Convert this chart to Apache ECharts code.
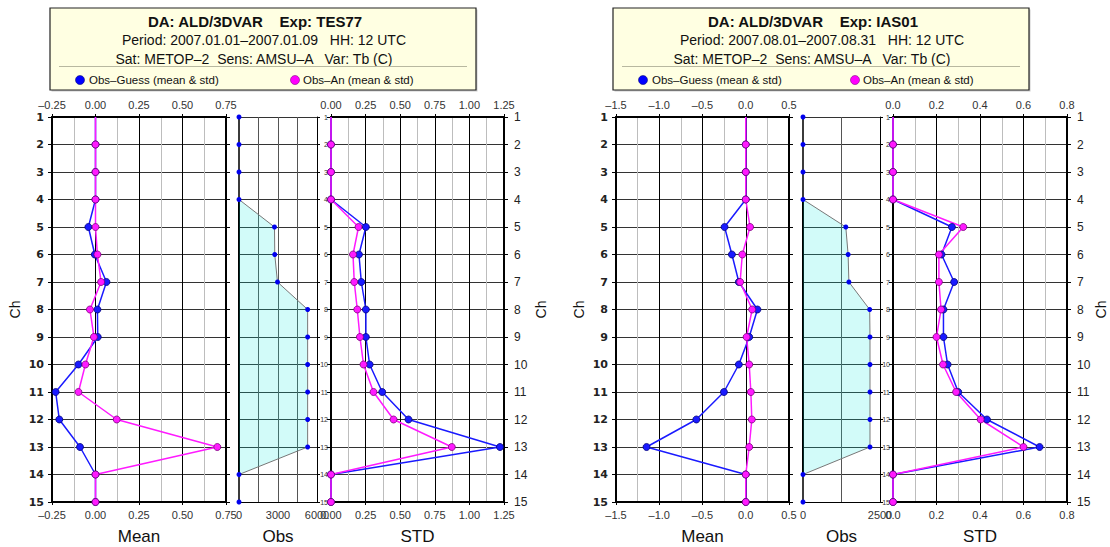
<!DOCTYPE html>
<html>
<head>
<meta charset="utf-8">
<script src="https://cdn.jsdelivr.net/npm/echarts@6/dist/echarts.min.js"></script>
<style>html,body{margin:0;padding:0;background:#fff;}#c{width:1110px;height:547px;}</style>
</head>
<body>
<div id="c"></div>
<script>
// ---- data ----
const channels = ['1','2','3','4','5','6','7','8','9','10','11','12','13','14','15'];

// Left panel: Exp TES77
const meanGuessL = [0,0,0,0,-0.041,-0.004,0.063,0.011,0.013,-0.098,-0.229,-0.208,-0.089,0,0];
const meanAnL    = [0,0,0,0,0,0.011,0.032,-0.032,-0.009,-0.058,-0.098,0.122,0.700,0,0];
const obsL       = [0,0,0,0,2730,2750,2960,5280,5280,5280,5280,5280,5280,0,0];
const stdGuessL  = [0,0,0,0,0.252,0.202,0.219,0.252,0.252,0.279,0.370,0.560,1.221,0,0];
const stdAnL     = [0,0,0,0,0.199,0.159,0.168,0.190,0.209,0.235,0.307,0.452,0.873,0,0];

// Right panel: Exp IAS01
const meanGuessR = [0,0,0,0,-0.245,-0.160,-0.080,0.135,0.040,-0.080,-0.252,-0.571,-1.147,0,0];
const meanAnR    = [0,0,0,0,0.050,-0.040,-0.065,0.074,0.010,0.040,0.059,0.070,0.040,0,0];
const obsR       = [0,0,0,0,1390,1465,1490,2165,2175,2175,2175,2175,2175,0,0];
const stdGuessR  = [0,0,0,0,0.271,0.223,0.281,0.232,0.232,0.251,0.300,0.432,0.674,0,0];
const stdAnR     = [0,0,0,0,0.323,0.211,0.211,0.221,0.200,0.230,0.290,0.403,0.600,0,0];

// axis ticks
const meanTicksL = [-0.25, 0.75, 0.25];   // min, max, interval
const stdTicksL  = [0, 1.25, 0.25];
const obsTicksL  = [0, 6000, 1500, 3000]; // min, max, interval, label step
const meanTicksR = [-1.5, 0.5, 0.5];
const stdTicksR  = [0, 0.8, 0.2];
const obsTicksR  = [0, 2500, 1250, 2500];

const headers = [
  {title: 'DA: ALD/3DVAR    Exp: TES77', period: 'Period: 2007.01.01–2007.01.09   HH: 12 UTC', sat: 'Sat: METOP–2  Sens: AMSU–A   Var: Tb (C)'},
  {title: 'DA: ALD/3DVAR    Exp: IAS01', period: 'Period: 2007.08.01–2007.08.31   HH: 12 UTC', sat: 'Sat: METOP–2  Sens: AMSU–A   Var: Tb (C)'}
];
const legendNames = ['Obs–Guess (mean & std)', 'Obs–An (mean & std)'];

// ---- build ----
const FONT = 'Liberation Sans, Arial, Helvetica, sans-serif';
const WFONT = 'DejaVu Sans, Liberation Sans, sans-serif';
const BLUE = '#1a1aff', MAG = '#ff1aff';
const TOP = 117, HEIGHT = 385;

const grids = [], xAxes = [], yAxes = [], series = [];

function fmtMinus(s){ return s.replace('-', '–'); }

function addGrid(left, width, kind, ticks, dec, name, chGap){
  const g = grids.length;
  grids.push({left: left, top: TOP, width: width, height: HEIGHT, containLabel: false, outerBoundsMode: 'none'});
  const isObs = kind === 'obs';
  const fmt = isObs ? (v => (Math.abs(v % ticks[3]) < 1e-9 ? String(v) : ''))
                    : (v => fmtMinus(Number(v).toFixed(dec)));
  const base = {
    gridIndex: g, type: 'value', min: ticks[0], max: ticks[1], interval: ticks[2],
    axisLine: {show: true, onZero: false, lineStyle: {color: '#000', width: isObs ? 1 : 2}},
    axisTick: {show: !isObs, length: 3, lineStyle: {color: '#000'}},
    axisLabel: {show: true, fontSize: 11, color: '#333', margin: 7, fontFamily: FONT, formatter: fmt, showMinLabel: true, showMaxLabel: true},
  };
  xAxes.push(Object.assign({}, base, {
    position: 'bottom',
    splitLine: {show: true, lineStyle: {color: isObs ? '#555' : '#000', width: 1}},
    minorTick: {show: false, splitNumber: 2},
    minorSplitLine: {show: !isObs, lineStyle: {color: '#bdbdbd', width: 1}},
    name: name, nameLocation: 'middle', nameGap: 26,
    nameTextStyle: {fontSize: 17, color: '#111', fontFamily: FONT}
  }));
  const xb = xAxes.length - 1;
  xAxes.push(Object.assign({}, base, {
    position: 'top',
    axisLine: {show: !isObs, onZero: false, lineStyle: {color: '#000', width: 2}},
    axisLabel: Object.assign({}, base.axisLabel, {show: !isObs}),
    axisTick: {show: !isObs, length: 3, lineStyle: {color: '#000'}},
    splitLine: {show: false}
  }));
  const yBase = {gridIndex: g, type: 'category', data: channels, inverse: true, boundaryGap: false};
  let leftLabel, leftTick = {show: true, length: 4, interval: 0, lineStyle: {color: '#000'}};
  if (kind === 'mean') {
    leftLabel = {show: true, interval: 0, fontSize: 11, fontWeight: 'bold', color: '#222', margin: 8, fontFamily: WFONT};
  } else if (kind === 'std') {
    leftLabel = {show: true, interval: 0, fontSize: 7, color: '#333', margin: 3, fontFamily: FONT};
  } else {
    leftLabel = {show: false};
    leftTick = {show: false};
  }
  yAxes.push(Object.assign({}, yBase, {
    position: 'left',
    axisLine: {show: true, onZero: false, lineStyle: {color: '#000', width: 2}},
    axisTick: leftTick,
    axisLabel: leftLabel,
    splitLine: {show: true, interval: 0, lineStyle: {color: '#333', width: 1}},
    name: kind === 'mean' ? 'Ch' : '', nameLocation: 'middle', nameGap: 30, nameRotate: 90,
    nameTextStyle: {fontSize: 14, color: '#111', fontFamily: FONT}
  }));
  const yl = yAxes.length - 1;
  yAxes.push(Object.assign({}, yBase, {
    position: 'right',
    axisLine: {show: true, onZero: false, lineStyle: {color: '#000', width: isObs ? 1 : 2}},
    axisTick: {show: true, length: isObs ? 3 : 4, interval: 0, lineStyle: {color: '#000'}},
    axisLabel: kind === 'std'
      ? {show: true, interval: 0, fontSize: 12, color: '#222', margin: 10, fontFamily: FONT}
      : {show: false},
    splitLine: {show: false},
    name: kind === 'std' ? 'Ch' : '', nameLocation: 'middle', nameGap: chGap, nameRotate: 90,
    nameTextStyle: {fontSize: 14, color: '#111', fontFamily: FONT}
  }));
  return {xb: xb, yl: yl};
}

function pointData(arr){
  return arr.map((v, i) => i === 0 ? {value: v, symbol: 'none'} : v);
}

function addProfile(ax, arr, color, border){
  series.push({
    type: 'line', xAxisIndex: ax.xb, yAxisIndex: ax.yl,
    data: pointData(arr), symbol: 'circle', symbolSize: 7, showAllSymbol: true, clip: false,
    lineStyle: {color: color, width: 1.5},
    itemStyle: {color: color, borderColor: border, borderWidth: 0.8},
    emphasis: {disabled: true}, silent: true
  });
}

function addObs(ax, arr){
  series.push({
    type: 'line', xAxisIndex: ax.xb, yAxisIndex: ax.yl,
    data: arr, symbol: 'circle', symbolSize: 5, showAllSymbol: true, clip: false,
    lineStyle: {color: '#777', width: 1},
    itemStyle: {color: '#0000ee', borderWidth: 0},
    areaStyle: {color: 'rgba(0,230,222,0.25)', origin: 'start'},
    emphasis: {disabled: true}, silent: true
  });
}

function panel(x0, chGap, mt, ot, st, md, sd, mg, ma, ob, sg, sa){
  const m = addGrid(x0[0], x0[1], 'mean', mt, md, 'Mean', chGap);
  const o = addGrid(x0[2], x0[3], 'obs', ot, 0, 'Obs', chGap);
  const s = addGrid(x0[4], x0[5], 'std', st, sd, 'STD', chGap);
  addProfile(m, mg, BLUE, '#00007a');
  addProfile(m, ma, MAG, '#7a007a');
  addObs(o, ob);
  addProfile(s, sg, BLUE, '#00007a');
  addProfile(s, sa, MAG, '#7a007a');
}

panel([52, 174, 239, 78, 331, 173], 30, meanTicksL, obsTicksL, stdTicksL, 2, 2,
      meanGuessL, meanAnL, obsL, stdGuessL, stdAnL);
panel([616, 173, 803, 77, 893, 174], 27, meanTicksR, obsTicksR, stdTicksR, 1, 1,
      meanGuessR, meanAnR, obsR, stdGuessR, stdAnR);

// header boxes
const graphic = [];
function header(bx, bw, h, off){
  const cx = bx + bw / 2;
  graphic.push({type: 'rect', shape: {x: bx + 1.5, y: 9.5, width: bw, height: 82}, style: {fill: '#999', opacity: 0.5}, silent: true});
  graphic.push({type: 'rect', shape: {x: bx, y: 8, width: bw, height: 82}, style: {fill: '#ffffe2', stroke: '#222', lineWidth: 1.2}, silent: true});
  graphic.push({type: 'text', style: {text: h.title, x: cx - 8, y: 21, textAlign: 'center', textVerticalAlign: 'middle', font: 'bold 15px ' + FONT, fill: '#111'}, silent: true});
  graphic.push({type: 'text', style: {text: h.period, x: cx + 1, y: 40, textAlign: 'center', textVerticalAlign: 'middle', font: '14px ' + FONT, fill: '#111'}, silent: true});
  graphic.push({type: 'text', style: {text: h.sat, x: cx - 9, y: 59, textAlign: 'center', textVerticalAlign: 'middle', font: '14px ' + FONT, fill: '#111'}, silent: true});
  graphic.push({type: 'line', shape: {x1: bx + 9, y1: 66.5, x2: bx + bw - 9, y2: 66.5}, style: {stroke: '#b8b8a0', lineWidth: 1}, silent: true});
  graphic.push({type: 'circle', shape: {cx: bx + off[0], cy: 80, r: 4.5}, style: {fill: '#0000ff', stroke: '#000060', lineWidth: 0.5}, silent: true});
  graphic.push({type: 'text', style: {text: legendNames[0], x: bx + off[0] + 9, y: 80, textAlign: 'left', textVerticalAlign: 'middle', font: '11.5px ' + FONT, fill: '#111'}, silent: true});
  graphic.push({type: 'circle', shape: {cx: bx + off[1], cy: 80, r: 4.5}, style: {fill: '#ff00ff', stroke: '#600060', lineWidth: 0.5}, silent: true});
  graphic.push({type: 'text', style: {text: legendNames[1], x: bx + off[1] + 8, y: 80, textAlign: 'left', textVerticalAlign: 'middle', font: '11.5px ' + FONT, fill: '#111'}, silent: true});
}
header(50, 426, headers[0], [30, 245]);
header(613, 416, headers[1], [30, 242]);

const chart = echarts.init(document.getElementById('c'), null, {renderer: 'svg'});
chart.setOption({
  animation: false,
  backgroundColor: '#fff',
  textStyle: {fontFamily: FONT},
  grid: grids, xAxis: xAxes, yAxis: yAxes, series: series, graphic: graphic
});
</script>
</body>
</html>
